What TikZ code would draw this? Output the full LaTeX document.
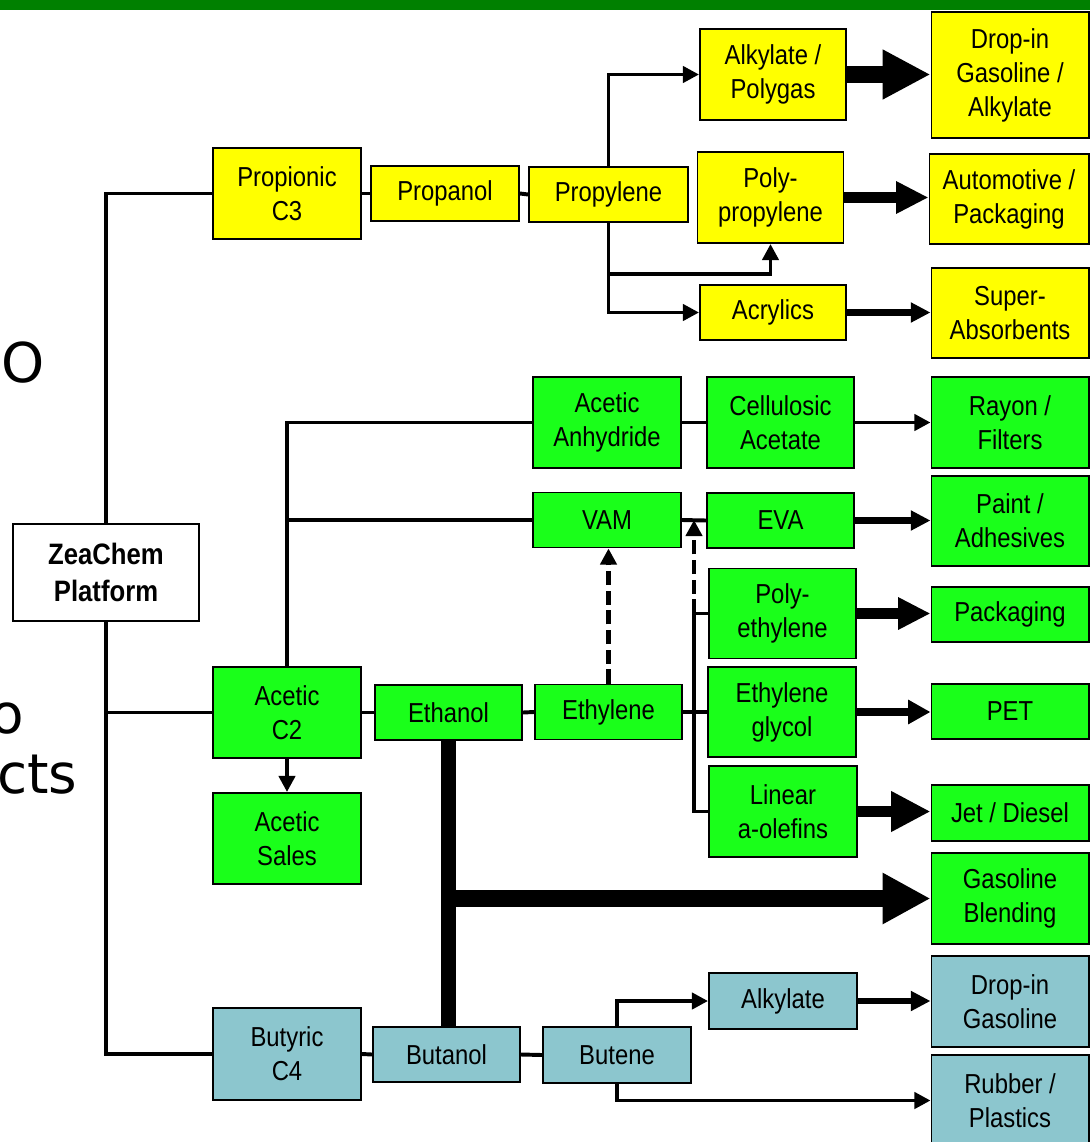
\documentclass[tikz,border=0pt]{standalone}
\usepackage{fontspec}
\setmainfont{Liberation Sans}[FakeStretch=0.87]
\newfontfamily\slidefont{DejaVu Sans}
\usetikzlibrary{arrows.meta}

\definecolor{zcyellow}{RGB}{255,255,0}
\definecolor{zcgreen}{RGB}{26,255,26}
\definecolor{zcblue}{RGB}{140,198,206}
\definecolor{zcbar}{RGB}{0,128,0}

\tikzset{
  blk/.style={draw=black, line width=1.4pt, align=center, inner sep=0pt,
    font=\fontsize{19.5}{24.2}\selectfont},
  sz/.style 2 args={minimum width=#1*0.025cm, minimum height=#2*0.025cm},
  c3/.style={blk, fill=zcyellow},
  c2/.style={blk, fill=zcgreen},
  c4/.style={blk, fill=zcblue},
  link/.style={line width=2.8pt},
  flow/.style={line width=2.8pt, -{Triangle[length=11.5pt,width=11.5pt]}},
  dflow/.style={flow, line width=3.2pt, dash pattern=on 10pt off 4pt},
  fat/.style n args={3}{line width=#1, -{Triangle[length=#2,width=#3]}},
  slide/.style={font=\slidefont\fontsize{39}{46}\selectfont, inner sep=0pt}
}

\begin{document}
\begin{tikzpicture}[x=0.025cm, y=-0.025cm]
  \useasboundingbox (0,0) rectangle (1090,1142);
  \fill[zcbar] (0,0) rectangle (1090,10);

  \node[slide, anchor=base] (fragO) at (23.5,382) {O};
  \node[slide, anchor=base east] (frago) at (24,733) {o};
  \node[slide, anchor=base west] (fragcts) at (-3,793) {cts};

  \node[blk, fill=white, sz={186}{97}, font=\fontsize{21}{26.3}\selectfont\bfseries] (platform) at (106,572.5) {ZeaChem\\Platform};

  \node[c3, sz={148}{91}] (propionic) at (287,193.5) {Propionic\\C3};
  \node[c3, sz={148}{55}] (propanol) at (445,193.5) {Propanol};
  \node[c3, sz={159}{55}] (propylene) at (608.5,194.5) {Propylene};
  \node[c3, sz={146}{91}] (alkpoly) at (773,74.5) {Alkylate /\\Polygas};
  \node[c3, sz={146}{91}] (polyprop) at (770.5,197.5) {Poly-\\propylene};
  \node[c3, sz={146}{55}] (acrylics) at (773,312.5) {Acrylics};
  \node[c3, sz={157}{126}] (dropalk) at (1010,75) {Drop-in\\Gasoline /\\Alkylate};
  \node[c3, sz={159}{90}] (autopack) at (1009,199) {Automotive /\\Packaging};
  \node[c3, sz={157}{90}] (superabs) at (1010,313) {Super-\\Absorbents};

  \node[c2, sz={148}{91}] (aceticc2) at (287,712.5) {Acetic\\C2};
  \node[c2, sz={148}{91}] (sales) at (287,838.5) {Acetic\\Sales};
  \node[c2, sz={147}{55}] (ethanol) at (448.5,712.5) {Ethanol};
  \node[c2, sz={147}{55}] (ethylene) at (608.5,712) {Ethylene};
  \node[c2, sz={148}{91}] (anhydride) at (607,422.5) {Acetic\\Anhydride};
  \node[c2, sz={148}{55}] (vam) at (607,520) {VAM};
  \node[c2, sz={147}{91}] (cellacet) at (780.5,422.5) {Cellulosic\\Acetate};
  \node[c2, sz={147}{55}] (eva) at (780.5,520.5) {EVA};
  \node[c2, sz={147}{90}] (polyeth) at (782.5,613.5) {Poly-\\ethylene};
  \node[c2, sz={148}{90}] (glycol) at (782,712) {Ethylene\\glycol};
  \node[c2, sz={148}{91}] (linear) at (783,811.5) {Linear\\a-olefins};
  \node[c2, sz={157}{91}] (rayon) at (1010,422.5) {Rayon /\\Filters};
  \node[c2, sz={157}{90}] (paint) at (1010,521) {Paint /\\Adhesives};
  \node[c2, sz={157}{55}] (packaging) at (1010,614.5) {Packaging};
  \node[c2, sz={157}{55}] (pet) at (1010,711.5) {PET};
  \node[c2, sz={157}{56}] (jetdiesel) at (1010,813) {Jet / Diesel};
  \node[c2, sz={157}{91}] (gasblend) at (1010,898.5) {Gasoline\\Blending};

  \node[c4, sz={148}{92}] (butyric) at (287,1054) {Butyric\\C4};
  \node[c4, sz={147}{55}] (butanol) at (446.5,1054.5) {Butanol};
  \node[c4, sz={148}{56}] (butene) at (617,1055) {Butene};
  \node[c4, sz={148}{56}] (alkylate) at (783,1001) {Alkylate};
  \node[c4, sz={157}{91}] (dropgas) at (1010,1001.5) {Drop-in\\Gasoline};
  \node[c4, sz={157}{91}] (rubber) at (1010,1100.5) {Rubber /\\Plastics};

  \draw[link] (platform.north) |- (propionic.west);
  \draw[link] (platform.south) |- (butyric.west);
  \draw[link] (platform.south |- aceticc2.west) -- (aceticc2.west);

  \draw[link] (propionic.east) -- (propanol.west);
  \draw[link] (propanol.east) -- (propylene.west);
  \draw[flow] (propylene.north) |- (alkpoly.west);
  \draw[flow] (propylene.south) |- ++(0,51) -| (polyprop.south);
  \draw[flow] (propylene.south) |- (acrylics.west);
  \draw[fat={11.5pt}{34pt}{33pt}] (alkpoly.east) -- (alkpoly.east -| dropalk.west);
  \draw[fat={7.5pt}{23pt}{21.5pt}] (polyprop.east) -- (polyprop.east -| autopack.west);
  \draw[fat={4.8pt}{14pt}{13.5pt}] (acrylics.east) -- (acrylics.east -| superabs.west);

  \draw[link] (aceticc2.north) |- (anhydride.west);
  \draw[link] (aceticc2.north |- vam.west) -- (vam.west);
  \draw[flow] (aceticc2.south) -- (sales.north);
  \draw[link] (aceticc2.east) -- (ethanol.west);
  \draw[link] (ethanol.east) -- (ethylene.west);
  \draw[link] (anhydride.east) -- (cellacet.west);
  \draw[flow] (cellacet.east) -- (cellacet.east -| rayon.west);
  \draw[link] (vam.east) -- (eva.west);
  \draw[fat={4.8pt}{14pt}{13.5pt}] (eva.east) -- (eva.east -| paint.west);
  \draw[dflow] (ethylene.north) -- (ethylene.north |- vam.south);

  \coordinate (ej) at (694,712);
  \draw[link] (ethylene.east) -- (glycol.west);
  \draw[link] (polyeth.west) -| (ej) |- (linear.west);
  \draw[dflow] (ej |- polyeth.west) -- (ej |- vam.east);
  \draw[fat={7.5pt}{23pt}{21.5pt}] (polyeth.east) -- (polyeth.east -| packaging.west);
  \draw[fat={6pt}{16pt}{16.5pt}] (glycol.east) -- (glycol.east -| pet.west);
  \draw[fat={8.5pt}{28pt}{27pt}] (linear.east) -- (linear.east -| jetdiesel.west);

  \draw[line width=10.7pt] (ethanol.south) -- (ethanol.south |- butanol.north);
  \draw[fat={12pt}{34pt}{34pt}] (ethanol.south |- gasblend.west) -- (gasblend.west);

  \draw[link] (butyric.east) -- (butanol.west);
  \draw[link] (butanol.east) -- (butene.west);
  \draw[flow] (butene.north) |- (alkylate.west);
  \draw[flow] (butene.south) |- (rubber.west);
  \draw[fat={4.8pt}{14pt}{13.5pt}] (alkylate.east) -- (alkylate.east -| dropgas.west);
\end{tikzpicture}
\end{document}
